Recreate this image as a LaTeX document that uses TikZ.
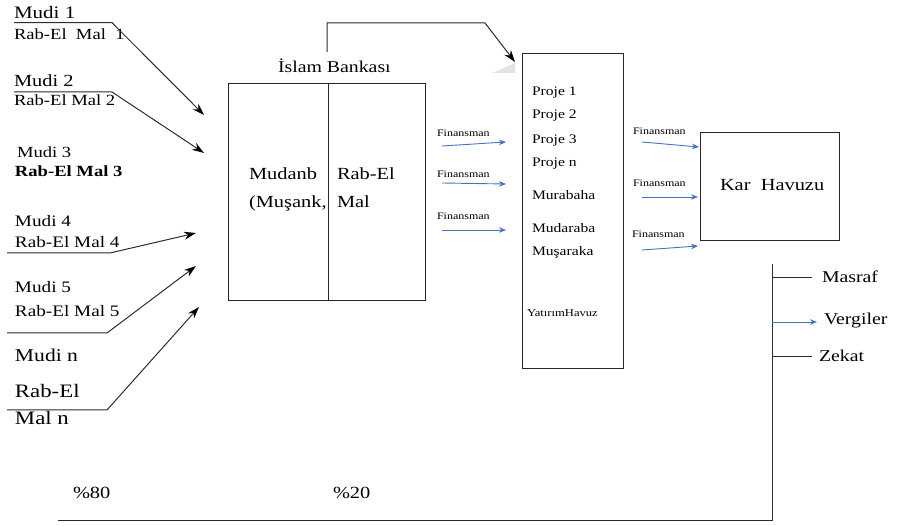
\documentclass[tikz,border=0pt]{standalone}
\usepackage{fontspec}
\usepackage{graphicx}
\setmainfont{Liberation Serif}
\usetikzlibrary{arrows.meta}
\definecolor{finblue}{RGB}{68,114,196}
\definecolor{linegray}{RGB}{45,45,45}
\definecolor{shadegray}{RGB}{225,228,228}
\newcommand{\wtx}[1]{\scalebox{1.2}[1]{#1}}
\tikzset{
  txt/.style={anchor=base west, inner sep=0pt, outer sep=0pt},
  ln/.style={draw=linegray, line width=1pt},
  blk/.style={ln, -{Stealth[length=12pt,width=8pt,fill=black,color=black]}},
  blu/.style={draw=finblue, line width=0.9pt, -{Stealth[length=7pt,width=5.5pt]}},
  fin/.style={txt, font=\fontsize{10}{12}\selectfont},
  boxline/.style={draw=black!85, line width=1pt},
}
\begin{document}
\begin{tikzpicture}[x=1pt,y=-1pt]
\useasboundingbox (0,0) rectangle (898,526);

% left texts
\node[txt, font=\fontsize{17.5}{20}\selectfont] (m1) at (14,19) {\wtx{Mudi 1}};
\node[txt, font=\fontsize{15.5}{18}\selectfont] (r1) at (14,40) {\wtx{Rab-El\ \ Mal\ \ 1}};
\node[txt, font=\fontsize{17}{20}\selectfont] (m2) at (14,87) {\wtx{Mudi 2}};
\node[txt, font=\fontsize{15.5}{18}\selectfont] (r2) at (14,106) {\wtx{Rab-El Mal\ 2}};
\node[txt, font=\fontsize{15.5}{18}\selectfont] (m3) at (17,158) {\wtx{Mudi 3}};
\node[txt, font=\fontsize{15.5}{18}\selectfont\bfseries] (r3) at (15,177) {\wtx{Rab-El Mal 3}};
\node[txt, font=\fontsize{16}{18}\selectfont] (m4) at (15,227) {\wtx{Mudi 4}};
\node[txt, font=\fontsize{16}{18}\selectfont] (r4) at (15,248) {\wtx{Rab-El Mal 4}};
\node[txt, font=\fontsize{16}{18}\selectfont] (m5) at (15,293) {\wtx{Mudi 5}};
\node[txt, font=\fontsize{16}{18}\selectfont] (r5) at (15,317) {\wtx{Rab-El Mal 5}};
\node[txt, font=\fontsize{18}{20}\selectfont] (mn) at (15,362) {\wtx{Mudi n}};
\node[txt, font=\fontsize{19}{20}\selectfont] (rn) at (15,398) {\wtx{Rab-El}};
\node[txt, font=\fontsize{19}{20}\selectfont] (rn2) at (15,425) {\wtx{Mal n}};

% left connectors
\coordinate (a1s) at (14,22.7); \coordinate (a1k) at (112,22.7); \coordinate (a1e) at (204,115);
\coordinate (a2s) at (14,92); \coordinate (a2k) at (112,92); \coordinate (a2e) at (204,153);
\coordinate (a4s) at (7,253); \coordinate (a4k) at (110,253); \coordinate (a4e) at (196,233);
\coordinate (a5s) at (7,333); \coordinate (a5k) at (107,333); \coordinate (a5e) at (196,266);
\coordinate (a6s) at (7,410); \coordinate (a6k) at (107,410); \coordinate (a6e) at (199,307);
\draw[blk] (a1s) -- (a1k) -- (a1e);
\draw[blk] (a2s) -- (a2k) -- (a2e);
\draw[blk] (a4s) -- (a4k) -- (a4e);
\draw[blk] (a5s) -- (a5k) -- (a5e);
\draw[blk] (a6s) -- (a6k) -- (a6e);

% bank
\node[txt, font=\fontsize{16.5}{18}\selectfont] (ib) at (278,73) {\wtx{İslam Bankası}};
\node[boxline, draw, minimum width=197pt, minimum height=217pt, inner sep=0pt, anchor=north west] (bank) at (228,83) {};
\draw[boxline] (328,83) -- (328,300);
\node[txt, font=\fontsize{17}{20}\selectfont] (mu1) at (249,180) {\wtx{Mudanb}};
\node[txt, font=\fontsize{17}{20}\selectfont] (mu2) at (249,208) {\wtx{(Muşank,}};
\node[txt, font=\fontsize{17}{20}\selectfont] (rb1) at (337,180) {\wtx{Rab-El}};
\node[txt, font=\fontsize{17}{20}\selectfont] (rb2) at (337,208) {\wtx{Mal}};

% investment pool box
\node[boxline, draw, minimum width=101pt, minimum height=315pt, inner sep=0pt, anchor=north west] (yat) at (522,53) {};
\fill[shadegray] (492,73) -- (515,63) -- (515,73) -- cycle;
\coordinate (t1) at (327,52); \coordinate (t2) at (327,23); \coordinate (t3) at (485,23); \coordinate (t4) at (515,62);
\draw[blk] (t1) -- (t2) -- (t3) -- (t4);

\node[txt, font=\fontsize{13}{15}\selectfont] (p1) at (532,96) {\wtx{Proje 1}};
\node[txt, font=\fontsize{13}{15}\selectfont] (p2) at (532,119) {\wtx{Proje 2}};
\node[txt, font=\fontsize{13}{15}\selectfont] (p3) at (532,144) {\wtx{Proje 3}};
\node[txt, font=\fontsize{13}{15}\selectfont] (pn) at (532,167) {\wtx{Proje n}};
\node[txt, font=\fontsize{13}{15}\selectfont] (mur) at (532,200) {\wtx{Murabaha}};
\node[txt, font=\fontsize{13}{15}\selectfont] (mud) at (532,233) {\wtx{Mudaraba}};
\node[txt, font=\fontsize{13}{15}\selectfont] (mus) at (532,256) {\wtx{Muşaraka}};
\node[txt, font=\fontsize{10.5}{12}\selectfont] (yh) at (527,317) {\wtx{YatırımHavuz}};

% Finansman arrows bank -> pool
\node[fin] (f1) at (437,137) {\wtx{Finansman}};
\node[fin] (f2) at (437,178) {\wtx{Finansman}};
\node[fin] (f3) at (437,220) {\wtx{Finansman}};
\coordinate (b1s) at (442,146); \coordinate (b1e) at (506,142);
\coordinate (b2s) at (442,183); \coordinate (b2e) at (506,184);
\coordinate (b3s) at (442,230); \coordinate (b3e) at (506,230);
\draw[blu] (b1s) -- (b1e);
\draw[blu] (b2s) -- (b2e);
\draw[blu] (b3s) -- (b3e);

% Kar Havuzu
\node[boxline, draw, minimum width=139pt, minimum height=108pt, inner sep=0pt, anchor=north west] (kar) at (700,132) {};
\node[txt, font=\fontsize{17}{20}\selectfont] (kt) at (720,191) {\wtx{Kar\ \ Havuzu}};
\node[fin] (g1) at (633,135) {\wtx{Finansman}};
\node[fin] (g2) at (633,187) {\wtx{Finansman}};
\node[fin] (g3) at (632,238) {\wtx{Finansman}};
\coordinate (c1s) at (642,142); \coordinate (c1e) at (699,147);
\coordinate (c2s) at (642,197); \coordinate (c2e) at (698,197);
\coordinate (c3s) at (642,250); \coordinate (c3e) at (698,246);
\draw[blu] (c1s) -- (c1e);
\draw[blu] (c2s) -- (c2e);
\draw[blu] (c3s) -- (c3e);

% distribution
\coordinate (vt) at (772,264); \coordinate (vb) at (772,521); \coordinate (bl) at (58,521);
\draw[ln] (vt) -- (vb) -- (bl);
\node[txt, font=\fontsize{16.5}{18}\selectfont] (ms) at (822,283) {\wtx{Masraf}};
\node[txt, font=\fontsize{16.5}{18}\selectfont] (vg) at (824,325) {\wtx{Vergiler}};
\node[txt, font=\fontsize{16.5}{18}\selectfont] (zk) at (819,362) {\wtx{Zekat}};
\coordinate (d1) at (772,278); \coordinate (d1e) at (812,278);
\coordinate (d2) at (772,322); \coordinate (d2e) at (817,322);
\coordinate (d3) at (772,357); \coordinate (d3e) at (812,357);
\draw[ln] (d1) -- (d1e);
\draw[blu] (d2) -- (d2e);
\draw[ln] (d3) -- (d3e);

\node[txt, font=\fontsize{17}{20}\selectfont] (p80) at (73,499) {\wtx{\%80}};
\node[txt, font=\fontsize{17}{20}\selectfont] (p20) at (333,499) {\wtx{\%20}};
\end{tikzpicture}
\end{document}
